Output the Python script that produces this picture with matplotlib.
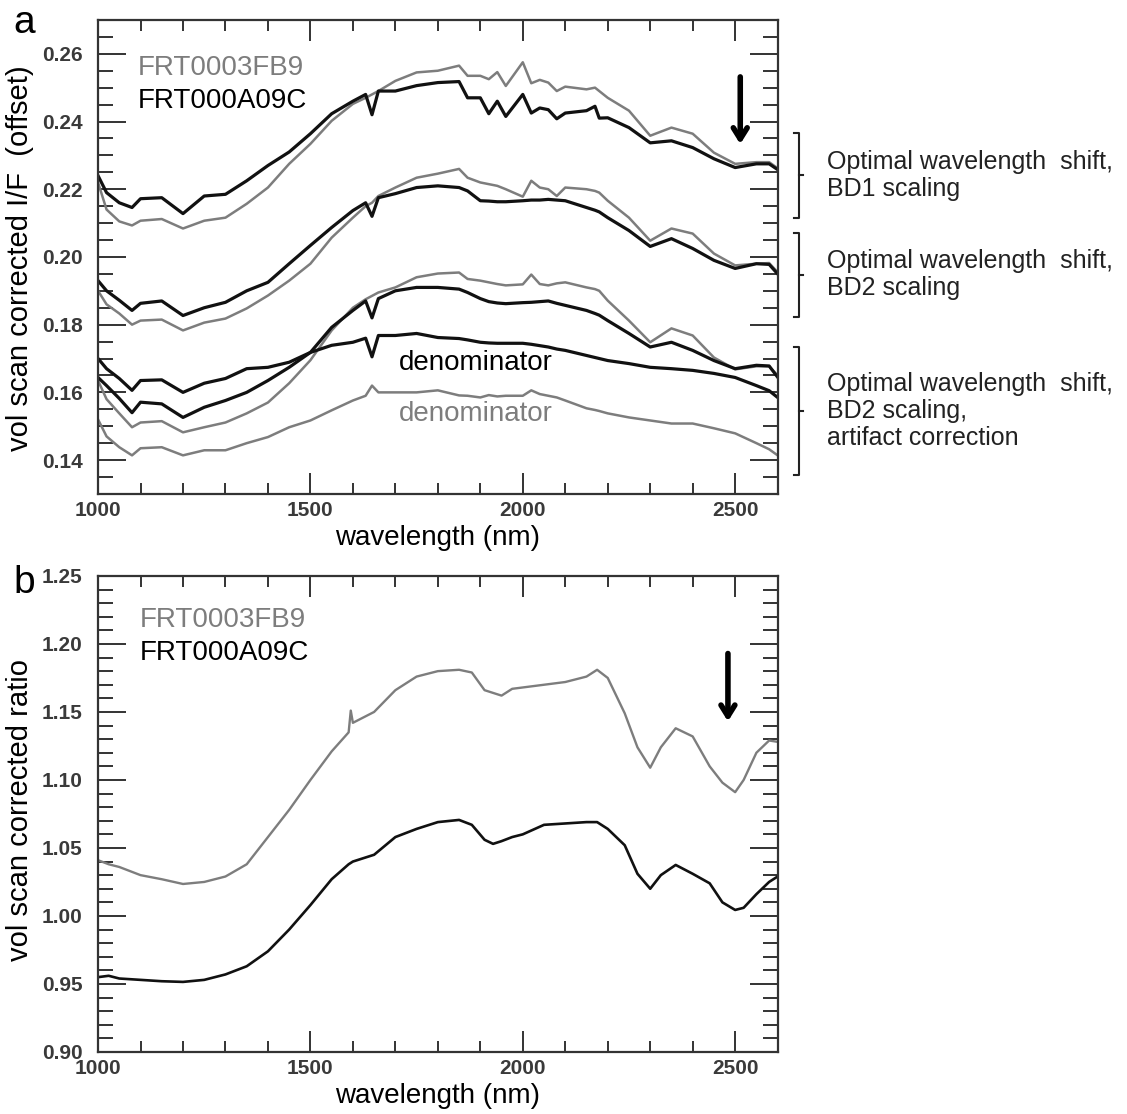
import numpy as np
import matplotlib
matplotlib.use("Agg")
import matplotlib.pyplot as plt
from matplotlib.ticker import MultipleLocator, FormatStrFormatter

plt.rcParams["font.family"] = ["Liberation Sans", "DejaVu Sans"]

# wavelength grid for panel a (nm)
wl_a = [1000, 1020, 1050, 1080, 1100, 1150, 1200, 1250, 1300, 1350,
        1400, 1450, 1500, 1550, 1600, 1630, 1645, 1660, 1700, 1750,
        1800, 1850, 1870, 1900, 1920, 1940, 1960, 2000, 2020, 2040,
        2060, 2080, 2100, 2150, 2170, 2180, 2200, 2250, 2300, 2350,
        2400, 2450, 2500, 2550, 2580, 2600]

# BD1 scaling
bd1_a09c = [0.2240, 0.2190, 0.2160, 0.2146, 0.2172, 0.2175, 0.2128, 0.2180, 0.2185, 0.2225,
            0.2270, 0.2310, 0.2364, 0.2423, 0.2460, 0.2480, 0.2420, 0.2490, 0.2490, 0.2506,
            0.2515, 0.2518, 0.2470, 0.2470, 0.2423, 0.2460, 0.2415, 0.2480, 0.2425, 0.2440,
            0.2435, 0.2408, 0.2425, 0.2432, 0.2445, 0.2410, 0.2411, 0.2382, 0.2337, 0.2343,
            0.2323, 0.2290, 0.2264, 0.2275, 0.2275, 0.2258]
bd1_3fb9 = [0.2220, 0.2140, 0.2105, 0.2093, 0.2107, 0.2112, 0.2084, 0.2107, 0.2116, 0.2157,
            0.2205, 0.2275, 0.2334, 0.2402, 0.2452, 0.2470, 0.2480, 0.2490, 0.2520, 0.2545,
            0.2550, 0.2565, 0.2535, 0.2535, 0.2525, 0.2546, 0.2505, 0.2575, 0.2513, 0.2523,
            0.2515, 0.2490, 0.2503, 0.2495, 0.2500, 0.2490, 0.2470, 0.2432, 0.2358, 0.2382,
            0.2364, 0.2308, 0.2275, 0.2280, 0.2280, 0.2262]

# BD2 scaling
bd2_a09c = [0.1930, 0.1900, 0.1872, 0.1842, 0.1863, 0.1870, 0.1827, 0.1850, 0.1866, 0.1900,
            0.1925, 0.1980, 0.2034, 0.2087, 0.2137, 0.2160, 0.2120, 0.2175, 0.2187, 0.2205,
            0.2210, 0.2205, 0.2195, 0.2166, 0.2165, 0.2163, 0.2163, 0.2166, 0.2168, 0.2168,
            0.2170, 0.2168, 0.2166, 0.2146, 0.2138, 0.2133, 0.2116, 0.2078, 0.2031, 0.2054,
            0.2025, 0.1990, 0.1966, 0.1980, 0.1978, 0.1950]
bd2_3fb9 = [0.1900, 0.1860, 0.1833, 0.1800, 0.1812, 0.1815, 0.1783, 0.1806, 0.1818, 0.1848,
            0.1886, 0.1930, 0.1980, 0.2057, 0.2116, 0.2150, 0.2160, 0.2180, 0.2205, 0.2234,
            0.2246, 0.2260, 0.2234, 0.2220, 0.2215, 0.2210, 0.2200, 0.2178, 0.2225, 0.2205,
            0.2200, 0.2180, 0.2205, 0.2200, 0.2195, 0.2190, 0.2166, 0.2116, 0.2048, 0.2084,
            0.2069, 0.2010, 0.1975, 0.1980, 0.1982, 0.1955]

# BD2 scaling + artifact correction
art_a09c = [0.1644, 0.1620, 0.1582, 0.1540, 0.1571, 0.1566, 0.1526, 0.1556, 0.1576, 0.1600,
            0.1635, 0.1674, 0.1718, 0.1792, 0.1842, 0.1870, 0.1820, 0.1877, 0.1900, 0.1910,
            0.1910, 0.1905, 0.1895, 0.1877, 0.1868, 0.1864, 0.1862, 0.1865, 0.1866, 0.1868,
            0.1870, 0.1863, 0.1857, 0.1842, 0.1833, 0.1828, 0.1812, 0.1774, 0.1734, 0.1748,
            0.1724, 0.1694, 0.1670, 0.1680, 0.1678, 0.1645]
art_3fb9 = [0.1635, 0.1580, 0.1538, 0.1497, 0.1511, 0.1515, 0.1482, 0.1497, 0.1511, 0.1538,
            0.1570, 0.1627, 0.1695, 0.1783, 0.1850, 0.1875, 0.1885, 0.1895, 0.1910, 0.1940,
            0.1951, 0.1954, 0.1935, 0.1930, 0.1925, 0.1920, 0.1916, 0.1919, 0.1948, 0.1920,
            0.1916, 0.1922, 0.1925, 0.1910, 0.1905, 0.1900, 0.1871, 0.1812, 0.1748, 0.1789,
            0.1768, 0.1703, 0.1668, 0.1677, 0.1677, 0.1650]

# denominators
den_a09c = [0.1700, 0.1670, 0.1641, 0.1606, 0.1635, 0.1637, 0.1600, 0.1627, 0.1641, 0.1670,
            0.1674, 0.1689, 0.1718, 0.1739, 0.1748, 0.1760, 0.1705, 0.1768, 0.1768, 0.1774,
            0.1762, 0.1759, 0.1755, 0.1748, 0.1746, 0.1745, 0.1745, 0.1745, 0.1742, 0.1738,
            0.1734, 0.1728, 0.1724, 0.1709, 0.1703, 0.1700, 0.1694, 0.1685, 0.1674, 0.1670,
            0.1665, 0.1656, 0.1644, 0.1620, 0.1605, 0.1585]
den_3fb9 = [0.1520, 0.1470, 0.1438, 0.1414, 0.1435, 0.1438, 0.1414, 0.1429, 0.1429, 0.1450,
            0.1468, 0.1497, 0.1517, 0.1547, 0.1576, 0.1590, 0.1620, 0.1600, 0.1600, 0.1600,
            0.1606, 0.1591, 0.1590, 0.1585, 0.1592, 0.1588, 0.1590, 0.1590, 0.1606, 0.1595,
            0.1590, 0.1585, 0.1576, 0.1553, 0.1548, 0.1545, 0.1538, 0.1526, 0.1517, 0.1508,
            0.1508, 0.1494, 0.1479, 0.1450, 0.1432, 0.1414]

# panel b: ratios
wl_b = [1000, 1025, 1050, 1100, 1150, 1200, 1250, 1300, 1350, 1400,
        1450, 1500, 1550, 1590, 1595, 1600, 1650, 1700, 1750, 1800,
        1850, 1880, 1910, 1930, 1950, 1975, 2000, 2050, 2100, 2150,
        2175, 2200, 2240, 2270, 2300, 2325, 2360, 2400, 2440, 2470,
        2500, 2520, 2550, 2580, 2600]
ratio_3fb9 = [1.041, 1.038, 1.036, 1.030, 1.027, 1.0235, 1.025, 1.029, 1.038, 1.058,
              1.078, 1.100, 1.121, 1.135, 1.151, 1.142, 1.150, 1.166, 1.176, 1.180,
              1.181, 1.179, 1.166, 1.164, 1.162, 1.167, 1.168, 1.170, 1.172, 1.176,
              1.181, 1.175, 1.149, 1.124, 1.109, 1.124, 1.138, 1.132, 1.110, 1.098,
              1.091, 1.100, 1.120, 1.129, 1.128]
ratio_a09c = [0.955, 0.956, 0.954, 0.953, 0.952, 0.9515, 0.953, 0.957, 0.963, 0.974,
              0.990, 1.008, 1.027, 1.038, 1.039, 1.040, 1.045, 1.058, 1.064, 1.069,
              1.0706, 1.067, 1.056, 1.053, 1.055, 1.058, 1.060, 1.067, 1.068, 1.069,
              1.069, 1.064, 1.052, 1.031, 1.020, 1.030, 1.0375, 1.031, 1.024, 1.010,
              1.0044, 1.006, 1.016, 1.025, 1.029]

GRAY = '#7d7d7d'
BLACK = '#111111'
TICKC = '#3a3a3a'
TICKFONT = ['Liberation Sans Narrow', 'Liberation Sans']

fig = plt.figure(figsize=(11.27, 11.14), dpi=100)
ax1 = fig.add_axes([0.087, 0.5566, 0.603, 0.4255])
ax2 = fig.add_axes([0.087, 0.0557, 0.603, 0.4273])


def style_axis(ax, ymajor, yminor, fmt):
    ax.set_xlim(1000, 2600)
    ax.xaxis.set_major_locator(MultipleLocator(500))
    ax.xaxis.set_minor_locator(MultipleLocator(100))
    ax.yaxis.set_major_locator(MultipleLocator(ymajor))
    ax.yaxis.set_minor_locator(MultipleLocator(yminor))
    ax.yaxis.set_major_formatter(FormatStrFormatter(fmt))
    ax.tick_params(which='both', direction='in', top=True, right=True,
                   width=1.4, color='#333333', labelcolor=TICKC)
    ax.tick_params(axis='y', which='major', length=20, pad=11)
    ax.tick_params(axis='y', which='minor', length=11)
    ax.tick_params(axis='x', which='major', length=15, pad=5)
    ax.tick_params(axis='x', which='minor', length=8)
    for s in ax.spines.values():
        s.set_linewidth(1.6)
        s.set_color('#333333')
    for lab in ax.get_xticklabels() + ax.get_yticklabels():
        lab.set_fontfamily(TICKFONT)
        lab.set_fontsize(15)
        lab.set_fontweight('bold')
    ax.set_xlabel('wavelength (nm)', fontsize=20, labelpad=4)


# ---- panel a ----
ax1.plot(wl_a, bd1_3fb9, color=GRAY, lw=1.8)
ax1.plot(wl_a, bd1_a09c, color=BLACK, lw=2.3)
ax1.plot(wl_a, bd2_3fb9, color=GRAY, lw=1.8)
ax1.plot(wl_a, bd2_a09c, color=BLACK, lw=2.3)
ax1.plot(wl_a, art_3fb9, color=GRAY, lw=1.8)
ax1.plot(wl_a, art_a09c, color=BLACK, lw=2.3)
ax1.plot(wl_a, den_3fb9, color=GRAY, lw=1.8)
ax1.plot(wl_a, den_a09c, color=BLACK, lw=2.3)
ax1.set_ylim(0.13, 0.27)
style_axis(ax1, 0.02, 0.005, '%.2f')

ax1.text(1094, 0.2559, 'FRT0003FB9', color=GRAY, fontsize=20, va='center')
ax1.text(1094, 0.2461, 'FRT000A09C', color='black', fontsize=20, va='center')
ax1.text(1709, 0.1686, 'denominator', color='black', fontsize=20, va='center')
ax1.text(1709, 0.1535, 'denominator', color=GRAY, fontsize=20, va='center')
ax1.annotate('', xy=(2512, 0.2325), xytext=(2512, 0.2540),
             arrowprops=dict(arrowstyle='->,head_length=0.8,head_width=0.5',
                             lw=4, color='black'))

# brackets on the right
brackets = [(0.2367, 0.2116, 'Optimal wavelength  shift,\nBD1 scaling'),
            (0.2072, 0.1822, 'Optimal wavelength  shift,\nBD2 scaling'),
            (0.1733, 0.1355, 'Optimal wavelength  shift,\nBD2 scaling,\nartifact correction')]
for top, bot, label in brackets:
    xb = 2650
    ax1.plot([xb - 12, xb, xb, xb - 12], [top, top, bot, bot], color='#222222',
             lw=1.5, clip_on=False)
    mid = (top + bot) / 2
    ax1.plot([xb, xb + 10], [mid, mid], color='#222222', lw=1.5, clip_on=False)
    ax1.text(2716, mid, label, fontsize=18, va='center', ha='left',
             linespacing=1.15, color='#222222')

# ---- panel b ----
ax2.plot(wl_b, ratio_3fb9, color=GRAY, lw=1.7)
ax2.plot(wl_b, ratio_a09c, color=BLACK, lw=1.9)
ax2.set_ylim(0.90, 1.25)
style_axis(ax2, 0.05, 0.01, '%.2f')

ax2.text(1098, 1.2176, 'FRT0003FB9', color=GRAY, fontsize=20, va='center')
ax2.text(1098, 1.1934, 'FRT000A09C', color='black', fontsize=20, va='center')
ax2.annotate('', xy=(2483, 1.141), xytext=(2483, 1.195),
             arrowprops=dict(arrowstyle='->,head_length=0.8,head_width=0.5',
                             lw=4, color='black'))

# y labels and panel letters
fig.text(0.018, 0.768, 'vol scan corrected I/F  (offset)', rotation=90,
         fontsize=21, va='center', ha='center')
fig.text(0.018, 0.273, 'vol scan corrected ratio', rotation=90,
         fontsize=21, va='center', ha='center')
fig.text(0.012, 0.9704, 'a', fontsize=28, va='baseline')
fig.text(0.012, 0.4677, 'b', fontsize=28, va='baseline')

fig.savefig('out.png', dpi=100)
